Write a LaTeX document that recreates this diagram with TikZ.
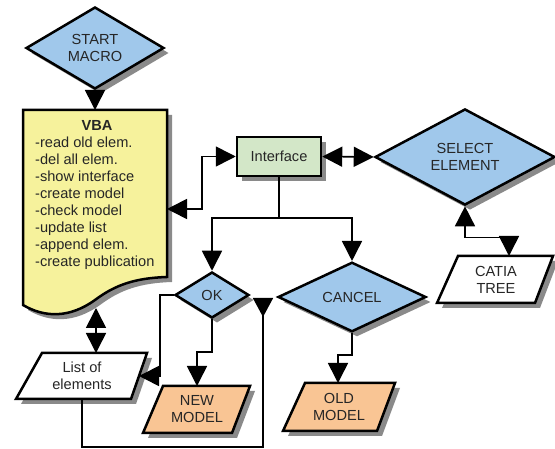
\documentclass[tikz,border=0pt]{standalone}
\usepackage{fontspec}
\setmainfont{Liberation Sans}
\usetikzlibrary{shapes.geometric,arrows.meta,shadows}
\definecolor{dblue}{HTML}{A0C8EB}
\definecolor{vyellow}{HTML}{F6F29C}
\definecolor{igreen}{HTML}{D3E7C8}
\definecolor{morange}{HTML}{F9C594}
\definecolor{shadowgray}{HTML}{8A8A8A}
\definecolor{textgray}{HTML}{262626}
\begin{document}
\begin{tikzpicture}[x=1pt,y=-1pt,
  >={Triangle[length=20pt,width=20pt]},
  txt/.style={text=textgray, font=\fontsize{14.6}{17}\selectfont, align=center},
  shp/.style={draw=black, line width=2.5pt, line join=miter},
  shad/.style={drop shadow={shadow xshift=5pt, shadow yshift=-5pt, fill=shadowgray, opacity=1}},
  dia/.style={diamond, shp, shad, fill=dblue, inner sep=0pt, txt},
  conn/.style={line width=1.6pt, draw=black}
]
\fill[white] (0,0) rectangle (555,449);
\useasboundingbox (0,0) rectangle (555,449);

% shapes
\node[dia, minimum width=138pt, minimum height=82pt] (start) at (95,48) {START\\MACRO};
\node[dia, minimum width=180pt, minimum height=72pt] (sel) at (465,157) {SELECT\\ELEMENT};
\node[dia, minimum width=74pt, minimum height=46pt] (ok) at (212,295) {OK};
\node[dia, minimum width=148pt, minimum height=60pt] (cancel) at (352,297) {CANCEL};
\node[rectangle, shp, shad, fill=igreen, minimum width=84pt, minimum height=39pt, txt] (iface) at (279,156.5) {Interface};

% VBA document shape
\path[shp, shad, fill=vyellow] (23,110) -- (167,110) -- (167,277)
  .. controls (135,278) and (115,285) .. (95,300)
  .. controls (70,318) and (45,318) .. (23,305) -- cycle;
\node[txt, anchor=base] (vbah) at (97,131) {\bfseries VBA};
\node[txt, anchor=north west, align=left, inner sep=0pt] (vbal) at (35,136.5)
  {-read old elem.\\-del all elem.\\-show interface\\-create model\\-check model\\-update list\\-append elem.\\-create publication};

% parallelograms
\path[shp, shad, fill=white] (458,256) -- (553,256) -- (535,303) -- (437,303) -- cycle;
\node[txt] (catia) at (496,280) {CATIA\\TREE};
\path[shp, shad, fill=white] (42,353) -- (147,353) -- (131,399) -- (16,399) -- cycle;
\node[txt] (list) at (82,376) {List of\\elements};
\path[shp, shad, fill=morange] (163,386) -- (250,386) -- (232,433) -- (143,433) -- cycle;
\node[txt] (newm) at (197,409) {NEW\\MODEL};
\path[shp, shad, fill=morange] (305,383) -- (395,383) -- (377,431) -- (283,431) -- cycle;
\node[txt] (oldm) at (339,407) {OLD\\MODEL};

% connection points
\coordinate (vbaTop) at (95,110);
\coordinate (vbaE) at (167,209);
\coordinate (vbaB) at (96,308);
\coordinate (listN) at (96,353);
\coordinate (listE) at (139,376);
\coordinate (listS) at (82,399);
\coordinate (catiaN) at (509,256);
\coordinate (newN) at (197,386);
\coordinate (oldN) at (338,383);
\coordinate (split) at (279,218);
\coordinate (okb) at (212,352);
\coordinate (cb) at (352,355);
\coordinate (botL) at (82,447);
\coordinate (retT) at (263,298);

% connectors
\draw[conn,->] (start.south) -- (vbaTop);
\draw[conn,<->] (vbaE) -- ++(35,0) |- (iface.west);
\draw[conn,<->] (iface.east) -- (sel.west);
\draw[conn,<->] (sel.south) -- ++(0,31) -| (catiaN);
\draw[conn] (iface.south) -- (split);
\draw[conn,->] (split) -| (ok.north);
\draw[conn,->] (split) -| (cancel.north);
\draw[conn,->] (ok.west) -- ++(-14,0) |- (listE);
\draw[conn,->] (ok.south) -- (okb) -| (newN);
\draw[conn,->] (cancel.south) -- (cb) -| (oldN);
\draw[conn,<->] (vbaB) -- (listN);
\draw[conn,-{Triangle[length=19pt,width=20pt,reversed]}] (listS) -- (botL) -| (retT);
\end{tikzpicture}
\end{document}
